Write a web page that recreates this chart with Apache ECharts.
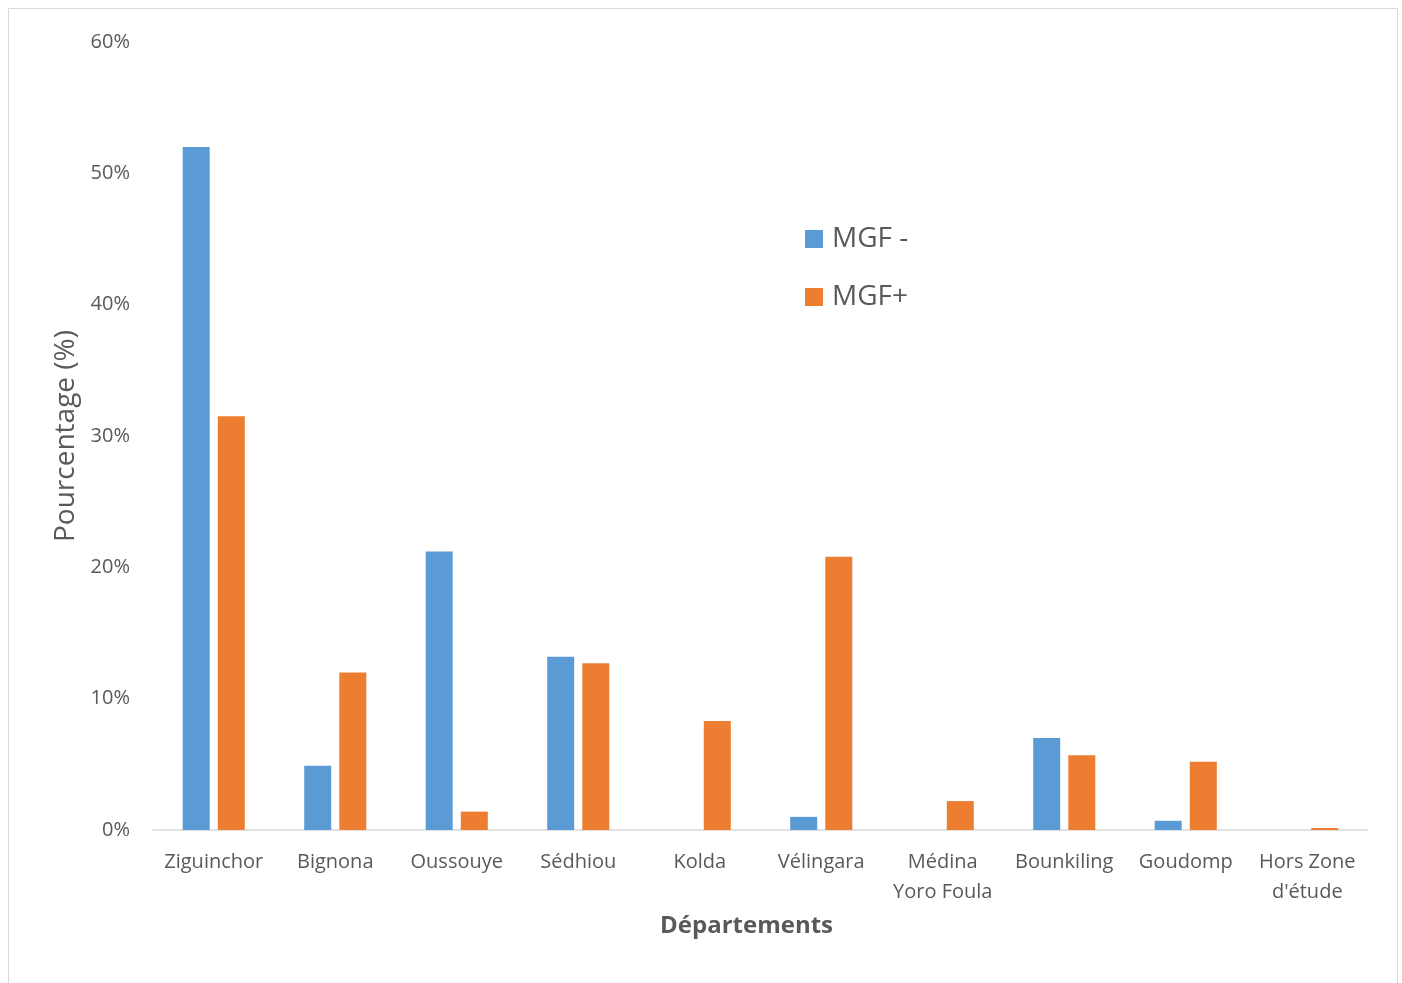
<!DOCTYPE html>
<html>
<head>
<meta charset="utf-8">
<script src="https://cdn.jsdelivr.net/npm/echarts@6/dist/echarts.min.js"></script>
<style>
  html, body { margin: 0; padding: 0; background: #fff; }
  #chart { width: 1402px; height: 983px; }
</style>
</head>
<body>
<div id="chart"></div>
<script>
// Départements
const categories = ['Ziguinchor', 'Bignona', 'Oussouye', 'Sédhiou', 'Kolda', 'Vélingara',
  'Médina\nYoro Foula', 'Bounkiling', 'Goudomp', "Hors Zone\nd'étude"];
// Pourcentages par groupe
const mgfMinus = [52.0, 4.9, 21.2, 13.2, 0, 1.0, 0, 7.0, 0.7, 0];
const mgfPlus = [31.5, 12.0, 1.4, 12.7, 8.3, 20.8, 2.2, 5.7, 5.2, 0.15];
const yTicks = [0, 10, 20, 30, 40, 50, 60];

const font = '"Open Sans", "Noto Sans", sans-serif';
const textColor = '#595959';

const chart = echarts.init(document.getElementById('chart'));
chart.setOption({
  animation: false,
  textStyle: { fontFamily: font },
  graphic: [{
    type: 'rect',
    shape: { x: 8.5, y: 8.5, width: 1389, height: 990 },
    style: { fill: 'none', stroke: '#D9D9D9', lineWidth: 1 },
    silent: true
  }],
  grid: { left: 153, right: 34, top: 42, bottom: 153, containLabel: false },
  legend: {
    orient: 'vertical',
    left: 800,
    top: 220,
    itemWidth: 18,
    itemHeight: 18,
    itemGap: 30,
    icon: 'rect',
    textStyle: { fontFamily: font, fontSize: 28, color: textColor, padding: [0, 0, 0, 4] },
    data: ['MGF -', 'MGF+']
  },
  xAxis: {
    type: 'category',
    data: categories,
    name: 'Départements',
    nameLocation: 'middle',
    nameGap: 84,
    nameTextStyle: { fontFamily: font, fontSize: 24, fontWeight: 'bold', color: textColor, padding: [0, 28, 0, 0] },
    axisLine: { lineStyle: { color: '#D9D9D9', width: 1.5 } },
    axisTick: { show: false },
    axisLabel: {
      interval: 0,
      margin: 17,
      fontSize: 20,
      lineHeight: 30,
      color: textColor,
      fontFamily: font
    }
  },
  yAxis: {
    type: 'value',
    min: yTicks[0],
    max: yTicks[yTicks.length - 1],
    interval: 10,
    name: 'Pourcentage (%)',
    nameLocation: 'middle',
    nameGap: 73,
    nameTextStyle: { fontFamily: font, fontSize: 28, color: textColor },
    axisLine: { show: false },
    axisTick: { show: false },
    splitLine: { show: false },
    axisLabel: {
      formatter: v => v + '%',
      margin: 23,
      fontSize: 20,
      color: textColor,
      fontFamily: font
    }
  },
  series: [
    {
      name: 'MGF -',
      type: 'bar',
      data: mgfMinus,
      barWidth: 27,
      barGap: '30%',
      itemStyle: { color: '#5B9BD5' }
    },
    {
      name: 'MGF+',
      type: 'bar',
      data: mgfPlus,
      barWidth: 27,
      barGap: '30%',
      itemStyle: { color: '#ED7D31' }
    }
  ]
});
</script>
</body>
</html>
